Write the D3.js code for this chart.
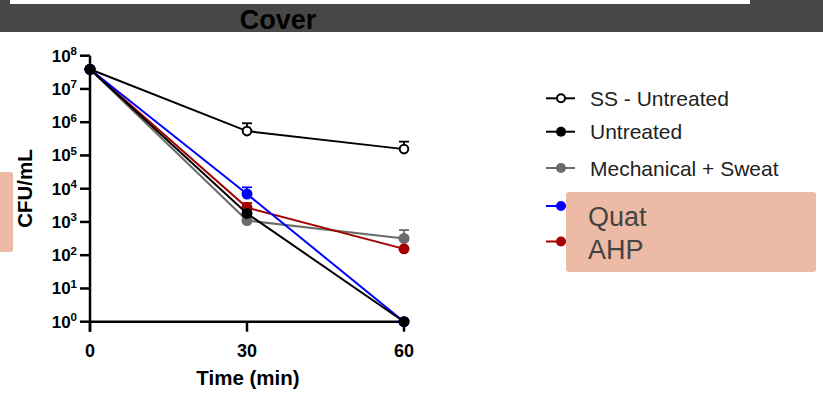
<!DOCTYPE html>
<html lang="en">
  <head>
    <title>Cover</title>
    <script src="https://d3js.org/d3.v7.min.js"></script>
    <style>
      body {
        margin: 0;
        background-color: #fff;
        font-family: "Liberation Sans", Arial, Helvetica, sans-serif;
      }
    </style>
  </head>
  <body>
    <div id="chart"></div>
    <script>
      // time points (min)
      const times = [0, 30, 60];

      // CFU/mL
      const ssUntreated = [3.9e7, 5.4e5, 1.55e5];
      const untreated = [3.9e7, 1.8e3, 1];
      const mechSweat = [3.9e7, 1.1e3, 320];
      const quat = [3.9e7, 6.9e3, 1];
      const ahp = [3.9e7, 2.7e3, 155];

      // top of the upper error bar (null = none drawn)
      const ssUntreatedErr = [null, 9.3e5, 2.6e5];
      const untreatedErr = [null, null, null];
      const mechSweatErr = [null, null, 570];
      const quatErr = [null, 1.1e4, null];
      const ahpErr = [null, 3.7e3, null];

      const yTickExps = [0, 1, 2, 3, 4, 5, 6, 7, 8];
      const xTicks = [0, 30, 60];

      const width = 823;
      const height = 393;

      const series = [
        { name: "SS - Untreated", values: ssUntreated, err: ssUntreatedErr, color: "#000", open: true },
        { name: "Mechanical + Sweat", values: mechSweat, err: mechSweatErr, color: "#6b6b6b" },
        { name: "AHP", values: ahp, err: ahpErr, color: "#a30000" },
        { name: "Quat", values: quat, err: quatErr, color: "#0000ff" },
        { name: "Untreated", values: untreated, err: untreatedErr, color: "#000" },
      ];
      const legendOrder = ["SS - Untreated", "Untreated", "Mechanical + Sweat", "Quat", "AHP"];

      const svg = d3
        .select("#chart")
        .append("svg")
        .attr("width", width)
        .attr("height", height);

      // header band
      svg.append("rect").attr("x", 0).attr("y", 0).attr("width", width).attr("height", 32).attr("fill", "#474747");
      svg.append("rect").attr("x", 10).attr("y", 0).attr("width", 740).attr("height", 4).attr("fill", "#fff");
      svg
        .append("text")
        .attr("x", 278)
        .attr("y", 29)
        .attr("text-anchor", "middle")
        .attr("font-size", 27)
        .attr("font-weight", 700)
        .attr("fill", "#000")
        .text("Cover");

      const x = d3.scaleLinear().domain([0, 60]).range([90, 404]);
      const y = d3.scaleLog().domain([1, 1e8]).range([321.7, 55.7]);

      // axes
      const axisG = svg.append("g").attr("stroke", "#000").attr("stroke-width", 2.5);
      axisG.append("line").attr("x1", x(0)).attr("x2", x(0)).attr("y1", y(1e8)).attr("y2", y(1) + 10);
      axisG.append("line").attr("x1", x(0)).attr("x2", x(60)).attr("y1", y(1)).attr("y2", y(1));

      yTickExps.forEach((e) => {
        const yy = y(Math.pow(10, e));
        axisG.append("line").attr("x1", x(0) - 10).attr("x2", x(0)).attr("y1", yy).attr("y2", yy);
        const t = svg
          .append("text")
          .attr("x", 77)
          .attr("y", yy + 6)
          .attr("text-anchor", "end")
          .attr("font-size", 17)
          .attr("font-weight", 700)
          .attr("fill", "#000");
        t.append("tspan").text("10");
        t.append("tspan").attr("font-size", 11.5).attr("dy", -6.5).text(e);
      });

      xTicks.forEach((v) => {
        axisG.append("line").attr("x1", x(v)).attr("x2", x(v)).attr("y1", y(1)).attr("y2", y(1) + 10);
        svg
          .append("text")
          .attr("x", x(v))
          .attr("y", 357)
          .attr("text-anchor", "middle")
          .attr("font-size", 18)
          .attr("font-weight", 700)
          .text(v);
      });

      svg
        .append("text")
        .attr("x", 248)
        .attr("y", 385)
        .attr("text-anchor", "middle")
        .attr("font-size", 20.5)
        .attr("font-weight", 700)
        .text("Time (min)");

      svg
        .append("text")
        .attr("transform", "translate(31.5,188.5) rotate(-90)")
        .attr("text-anchor", "middle")
        .attr("font-size", 20.5)
        .attr("font-weight", 700)
        .text("CFU/mL");

      // pink box at left edge
      svg.append("rect").attr("x", -4).attr("y", 172).attr("width", 17).attr("height", 80).attr("rx", 2.5).attr("fill", "#edbaa5");

      // data
      const line = d3
        .line()
        .x((d, i) => x(times[i]))
        .y((d) => y(d));

      series.forEach((s) => {
        const g = svg.append("g");
        g.append("path")
          .attr("d", line(s.values))
          .attr("fill", "none")
          .attr("stroke", s.color)
          .attr("stroke-width", 2);
        s.err.forEach((e, i) => {
          if (e == null) return;
          const cx = x(times[i]);
          g.append("line").attr("x1", cx).attr("x2", cx).attr("y1", y(s.values[i])).attr("y2", y(e)).attr("stroke", s.color).attr("stroke-width", 1.8);
          g.append("line").attr("x1", cx - 5).attr("x2", cx + 5).attr("y1", y(e)).attr("y2", y(e)).attr("stroke", s.color).attr("stroke-width", 1.8);
        });
        s.values.forEach((v, i) => {
          const isOpen = s.open && i > 0;
          g.append("circle")
            .attr("cx", x(times[i]))
            .attr("cy", y(v))
            .attr("r", isOpen ? 4.3 : 5.5)
            .attr("fill", isOpen ? "#fff" : s.color)
            .attr("stroke", s.color)
            .attr("stroke-width", isOpen ? 2 : 0);
        });
      });

      // legend
      const legendY = [98.3, 131.7, 168, 206, 241.5];
      legendOrder.forEach((name, i) => {
        const s = series.find((d) => d.name === name);
        const g = svg.append("g").attr("transform", `translate(0,${legendY[i]})`);
        g.append("line").attr("x1", 546).attr("x2", 575).attr("y1", 0).attr("y2", 0).attr("stroke", s.color).attr("stroke-width", 2);
        g.append("circle")
          .attr("cx", 561)
          .attr("cy", 0)
          .attr("r", s.open ? 4 : 5)
          .attr("fill", s.open ? "#fff" : s.color)
          .attr("stroke", s.color)
          .attr("stroke-width", s.open ? 2 : 0);
        if (i < 3) {
          g.append("text").attr("x", 590).attr("y", 7.5).attr("font-size", 21).attr("fill", "#222").text(name);
        }
      });

      // pink note box covering the last two entries
      svg.append("rect").attr("x", 566).attr("y", 192).attr("width", 250).attr("height", 80).attr("rx", 3).attr("fill", "#edbaa5");
      svg.append("text").attr("x", 588).attr("y", 226).attr("font-size", 27).attr("fill", "#444").text("Quat");
      svg.append("text").attr("x", 588).attr("y", 259).attr("font-size", 27).attr("fill", "#444").text("AHP");
    </script>
  </body>
</html>
